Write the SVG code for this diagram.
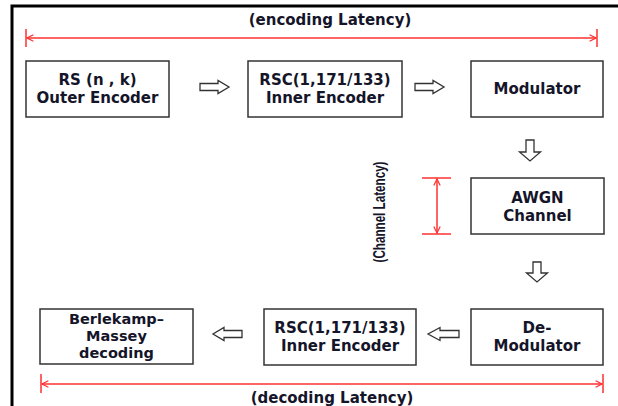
<svg xmlns="http://www.w3.org/2000/svg" width="618" height="406" viewBox="0 0 618 406">
<style>
.box{fill:#fff;stroke:#333;stroke-width:1.5}
.t{font-family:"DejaVu Sans","Liberation Sans",sans-serif;font-weight:bold;font-size:15px;fill:#15152a;text-anchor:middle}
.s{font-size:14.5px}
.v{font-family:"Liberation Sans",sans-serif;font-size:17px}
.red{stroke:#ff3030;stroke-width:1.5;fill:none}
.blk{fill:#fff;stroke:#333;stroke-width:1.3;stroke-linejoin:miter}
</style>
<defs>
<marker id="ah" viewBox="0 0 10 10" refX="9" refY="5" markerWidth="8" markerHeight="8" markerUnits="userSpaceOnUse" orient="auto-start-reverse">
<path d="M1,1 L9,5 L1,9" fill="none" stroke="#ff3030" stroke-width="1.5"/>
</marker>
</defs>
<rect width="618" height="406" fill="#fff"/>
<path d="M12,406 V6 H618" fill="none" stroke="#000" stroke-width="3"/>

<g id="encoding-latency">
<text class="t" x="330" y="25">(encoding Latency)</text>
<line class="red" x1="27" y1="38" x2="596" y2="38" marker-start="url(#ah)" marker-end="url(#ah)"/>
<line class="red" x1="26" y1="29" x2="26" y2="47"/>
<line class="red" x1="597" y1="29" x2="597" y2="47"/>
</g>

<g id="rs-outer-encoder">
<rect class="box" x="26" y="61" width="143" height="56"/>
<text class="t" x="97.5" y="85">RS (n , k)</text>
<text class="t" x="97.5" y="103">Outer Encoder</text>
</g>
<g id="rsc-inner-encoder">
<rect class="box" x="248" y="61" width="154" height="56"/>
<text class="t" x="325" y="85">RSC(1,171/133)</text>
<text class="t" x="325" y="103">Inner Encoder</text>
</g>
<g id="modulator">
<rect class="box" x="471" y="61" width="132" height="56"/>
<text class="t" x="537" y="94">Modulator</text>
</g>
<g id="awgn-channel">
<rect class="box" x="471" y="178" width="133" height="56"/>
<text class="t" x="537.5" y="203">AWGN</text>
<text class="t" x="537.5" y="221">Channel</text>
</g>
<g id="channel-latency">
<text class="t v" transform="translate(385,212) rotate(-90)" textLength="101" lengthAdjust="spacingAndGlyphs" x="0" y="0">(Channel Latency)</text>
<line class="red" x1="437" y1="179" x2="437" y2="233" marker-start="url(#ah)" marker-end="url(#ah)"/>
<line class="red" x1="422" y1="178" x2="451" y2="178"/>
<line class="red" x1="422" y1="234" x2="451" y2="234"/>
</g>
<g id="de-modulator">
<rect class="box" x="471" y="309" width="132" height="56"/>
<text class="t" x="537" y="333">De-</text>
<text class="t" x="537" y="351">Modulator</text>
</g>
<g id="rsc-inner-decoder">
<rect class="box" x="264" y="309" width="152" height="56"/>
<text class="t" x="340" y="333">RSC(1,171/133)</text>
<text class="t" x="340" y="351">Inner Encoder</text>
</g>
<g id="berlekamp-massey">
<rect class="box" x="40" y="309" width="153" height="55"/>
<text class="t s" x="116.5" y="323.5">Berlekamp–</text>
<text class="t s" x="116.5" y="340.5">Massey</text>
<text class="t s" x="116.5" y="357.5">decoding</text>
</g>

<g id="decoding-latency">
<line class="red" x1="42" y1="384" x2="602" y2="384" marker-start="url(#ah)" marker-end="url(#ah)"/>
<line class="red" x1="41" y1="374" x2="41" y2="393"/>
<line class="red" x1="603" y1="374" x2="603" y2="393"/>
<text class="t" x="332" y="403">(decoding Latency)</text>
</g>

<g id="connectors">
<path class="blk" d="M200,83.5 H218 V80.5 L229,87 L218,93.5 V90.5 H200 Z"/>
<path class="blk" d="M415,83.5 H433 V80.5 L444,87 L433,93.5 V90.5 H415 Z"/>
<path class="blk" d="M526,140 V152 H519.5 L530,161 L540.5,152 H534 V140 Z"/>
<path class="blk" d="M533,262 V273 H526.5 L537,282 L547.5,273 H541 V262 Z"/>
<path class="blk" d="M459,330.5 H440 V327.5 L428,334 L440,340.5 V337.5 H459 Z"/>
<path class="blk" d="M242,330.5 H224 V327.5 L213,334 L224,340.5 V337.5 H242 Z"/>
</g>
</svg>
